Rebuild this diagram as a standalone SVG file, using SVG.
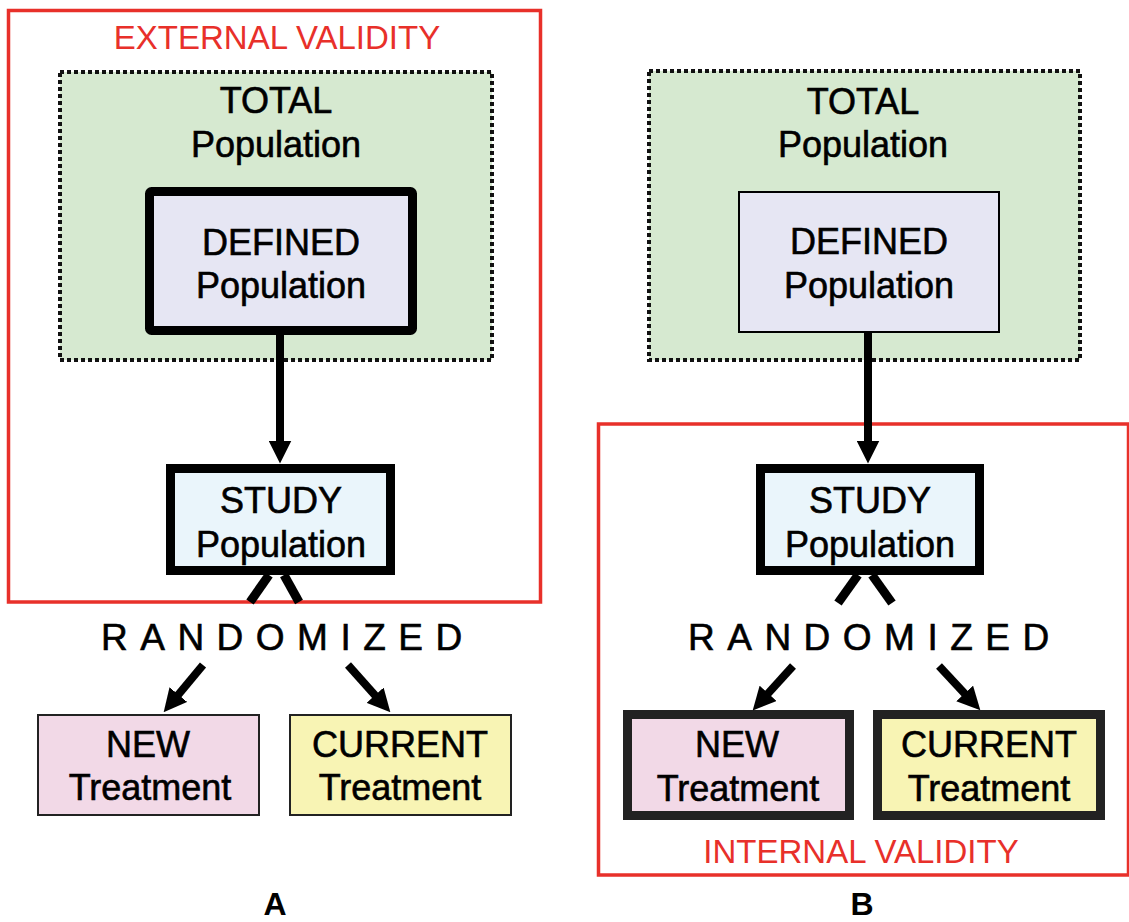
<svg xmlns="http://www.w3.org/2000/svg" width="1129" height="922" viewBox="0 0 1129 922">
<style>
.t{font-family:"Liberation Sans",Arial,sans-serif;font-size:36px;fill:#000;stroke:#000;stroke-width:0.6;text-anchor:middle}
.red{font-family:"Liberation Sans",Arial,sans-serif;font-size:33px;fill:#e8302a;text-anchor:middle}
.rnd{font-family:"Liberation Sans",Arial,sans-serif;font-size:37px;fill:#000;stroke:#000;stroke-width:0.6;letter-spacing:12.5px}
.lbl{font-family:"Liberation Sans",Arial,sans-serif;font-size:32px;font-weight:bold;fill:#000;text-anchor:middle}
.frame{fill:none;stroke:#e8302a;stroke-width:3.5}
.total{fill:#d6e9d0;stroke:#111;stroke-width:4;stroke-dasharray:4 3}
.defined{fill:#e6e6f3;stroke:#000}
.study{fill:#eaf5fb;stroke:#000;stroke-width:9}
.new{fill:#f2d9e7;stroke:#222}
.cur{fill:#f8f4b4;stroke:#222}
.thin{stroke-width:2}
.thick{stroke-width:9}
.arr{stroke:#000;stroke-width:8;fill:none;marker-end:url(#ah)}
.split{stroke:#000;stroke-width:9;fill:none}
</style>
<defs>
<marker id="ah" viewBox="0 0 10 10" refX="5" refY="5" markerWidth="23" markerHeight="23" markerUnits="userSpaceOnUse" orient="auto">
<path d="M0,0 L10,5 L0,10 z" fill="#000"/>
</marker>
</defs>

<!-- Panel A -->
<g id="external-validity">
<rect class="frame" x="8.5" y="10.5" width="532" height="591.5"/>
<text class="red" x="277" y="49">EXTERNAL VALIDITY</text>
</g>
<g id="a-total">
<rect class="total" x="60" y="72" width="432" height="288"/>
<text class="t" x="276" y="113">TOTAL</text>
<text class="t" x="276" y="157">Population</text>
</g>
<g id="a-defined">
<rect class="defined thick" x="149.5" y="191.5" width="263" height="139" rx="2"/>
<text class="t" x="281" y="255">DEFINED</text>
<text class="t" x="281" y="298">Population</text>
</g>
<g id="a-study">
<rect class="study" x="170.5" y="468.5" width="220" height="102"/>
<text class="t" x="281" y="513">STUDY</text>
<text class="t" x="281" y="557">Population</text>
</g>
<g id="a-randomized">
<text class="rnd" x="101" y="650">RANDOMIZED</text>
</g>
<g id="a-new">
<rect class="new thin" x="38" y="715" width="221" height="100"/>
<text class="t" x="148" y="757">NEW</text>
<text class="t" x="150" y="800">Treatment</text>
</g>
<g id="a-current">
<rect class="cur thin" x="290" y="715" width="221" height="100"/>
<text class="t" x="400" y="757">CURRENT</text>
<text class="t" x="400" y="800">Treatment</text>
</g>
<g id="label-a">
<text class="lbl" x="275" y="915">A</text>
</g>

<!-- Panel B -->
<g id="b-total">
<rect class="total" x="649" y="71" width="431" height="289"/>
<text class="t" x="863" y="114">TOTAL</text>
<text class="t" x="863" y="157">Population</text>
</g>
<g id="b-defined">
<rect class="defined thin" x="739" y="192" width="260" height="140"/>
<text class="t" x="869" y="254">DEFINED</text>
<text class="t" x="869" y="298">Population</text>
</g>
<g id="internal-validity">
<rect class="frame" x="598.5" y="424" width="530" height="451"/>
<text class="red" x="861" y="863">INTERNAL VALIDITY</text>
</g>
<g id="b-study">
<rect class="study" x="760.5" y="468.5" width="219" height="102"/>
<text class="t" x="870" y="513">STUDY</text>
<text class="t" x="870" y="557">Population</text>
</g>
<g id="b-randomized">
<text class="rnd" x="688" y="650">RANDOMIZED</text>
</g>
<g id="b-new">
<rect class="new thick" x="627.5" y="714.5" width="222" height="101"/>
<text class="t" x="737" y="757">NEW</text>
<text class="t" x="738" y="801">Treatment</text>
</g>
<g id="b-current">
<rect class="cur thick" x="877.5" y="714.5" width="223" height="101"/>
<text class="t" x="989" y="757">CURRENT</text>
<text class="t" x="989" y="801">Treatment</text>
</g>
<g id="label-b">
<text class="lbl" x="862" y="915">B</text>
</g>

<g id="connectors">
<line class="arr" x1="280" y1="335" x2="280" y2="452"/>
<line class="split" x1="269" y1="575" x2="250" y2="602"/>
<line class="split" x1="284" y1="575" x2="299" y2="602"/>
<line class="arr" x1="203" y1="665" x2="171" y2="703.5"/>
<line class="arr" x1="348" y1="665" x2="382.7" y2="703.8"/>
<line class="arr" x1="868" y1="333" x2="868" y2="452"/>
<line class="split" x1="858" y1="575" x2="838" y2="603"/>
<line class="split" x1="872" y1="575" x2="892" y2="603"/>
<line class="arr" x1="793" y1="666" x2="760.4" y2="701.9"/>
<line class="arr" x1="939" y1="666" x2="972.5" y2="701.9"/>
</g>
</svg>
